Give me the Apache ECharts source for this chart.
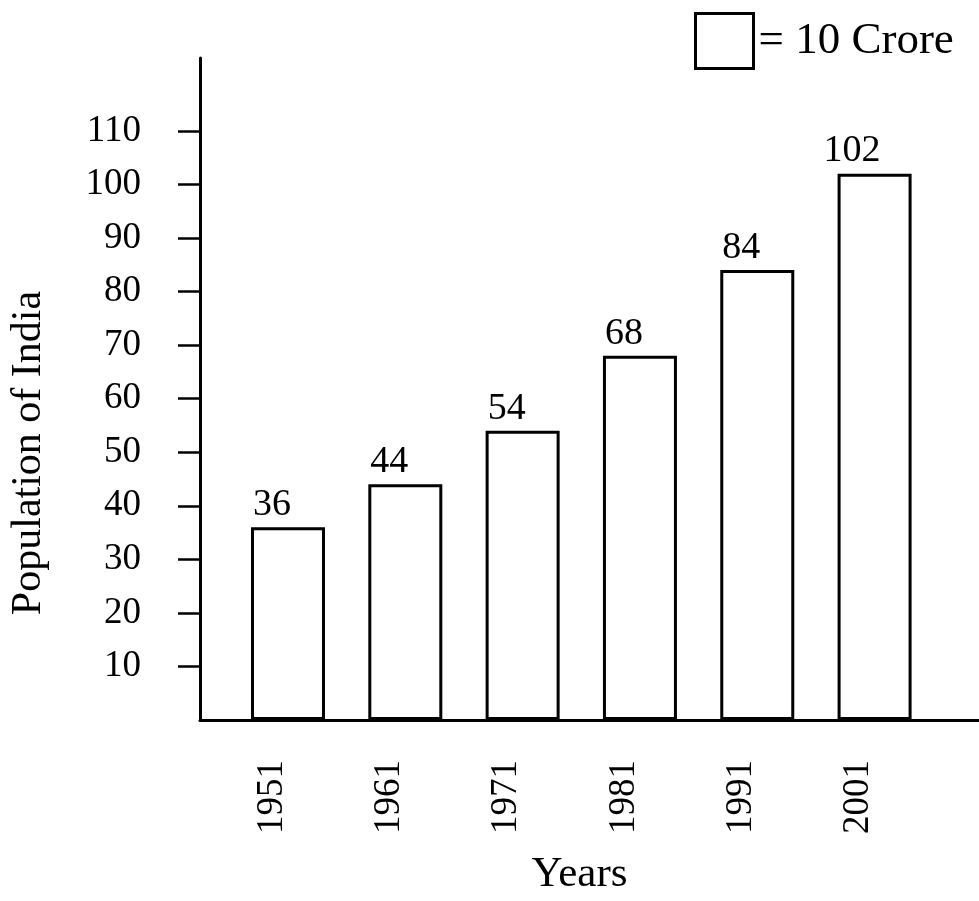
<!DOCTYPE html>
<html>
<head>
<meta charset="utf-8">
<script src="https://cdn.jsdelivr.net/npm/echarts@6/dist/echarts.min.js"></script>
<style>
  html, body { margin: 0; padding: 0; background: #fff; }
  #chart { width: 979px; height: 901px; }
</style>
</head>
<body>
<div id="chart"></div>
<script>
const years = [1951, 1961, 1971, 1981, 1991, 2001];
const population = [36, 44, 54, 68, 84, 102];
const yTickValues = [10, 20, 30, 40, 50, 60, 70, 80, 90, 100, 110];
const seriesName = '10 Crore';
const yAxisTitle = 'Population of India';
const xAxisTitle = 'Years';

const FONT = "'Liberation Serif', 'Times New Roman', serif";
const INK = '#000';

const chart = echarts.init(document.getElementById('chart'), null, { renderer: 'canvas' });

const barData = years.map((yr, i) => {
  const item = { value: [yr, population[i]] };
  if (i === years.length - 1) {
    item.label = { position: [-14, -4] };
  }
  return item;
});

chart.setOption({
  backgroundColor: '#fff',
  animation: false,
  textStyle: { fontFamily: FONT, color: INK },
  legend: {
    left: 694,
    top: 12,
    padding: 0,
    itemWidth: 58,
    itemHeight: 55,
    icon: 'rect',
    formatter: '= {name}',
    itemStyle: { color: '#fff', borderColor: INK, borderWidth: 3 },
    textStyle: { fontFamily: FONT, fontSize: 45, color: INK },
    data: [seriesName]
  },
  grid: { left: 200, right: 0, top: 58, bottom: 178, containLabel: false },
  xAxis: {
    type: 'value',
    min: 1943.5,
    max: 2009.9,
    name: xAxisTitle,
    nameLocation: 'middle',
    nameGap: 133,
    nameTextStyle: { fontFamily: FONT, fontSize: 43, color: INK, padding: [0, 20, 0, 0] },
    axisLine: { show: true, onZero: false, lineStyle: { color: INK, width: 3 } },
    axisTick: { show: false },
    splitLine: { show: false },
    axisLabel: {
      customValues: years,
      rotate: 90,
      margin: 40,
      fontFamily: FONT,
      fontSize: 37,
      color: INK,
      verticalAlign: 'bottom',
      lineHeight: 32,
      formatter: v => String(Math.round(v))
    }
  },
  yAxis: {
    type: 'value',
    min: 0,
    max: 123.6,
    interval: 10,
    name: yAxisTitle,
    nameLocation: 'middle',
    nameGap: 150,
    nameRotate: 90,
    nameTextStyle: { fontFamily: FONT, fontSize: 42, color: INK, padding: [0, 128, 0, 0] },
    axisLine: { show: true, lineStyle: { color: INK, width: 3 } },
    axisTick: { show: true, inside: false, length: 22, customValues: yTickValues, lineStyle: { color: INK, width: 2.5 } },
    splitLine: { show: false },
    axisLabel: {
      customValues: yTickValues,
      margin: 59,
      fontFamily: FONT,
      fontSize: 37,
      color: INK
    }
  },
  series: [{
    name: seriesName,
    type: 'bar',
    barWidth: 74,
    data: barData,
    itemStyle: { color: '#fff', borderColor: INK, borderWidth: 3 },
    label: {
      show: true,
      position: [2, -3],
      align: 'left',
      verticalAlign: 'bottom',
      fontFamily: FONT,
      fontSize: 38,
      color: INK,
      formatter: p => String(p.value[1])
    }
  }]
});
</script>
</body>
</html>
